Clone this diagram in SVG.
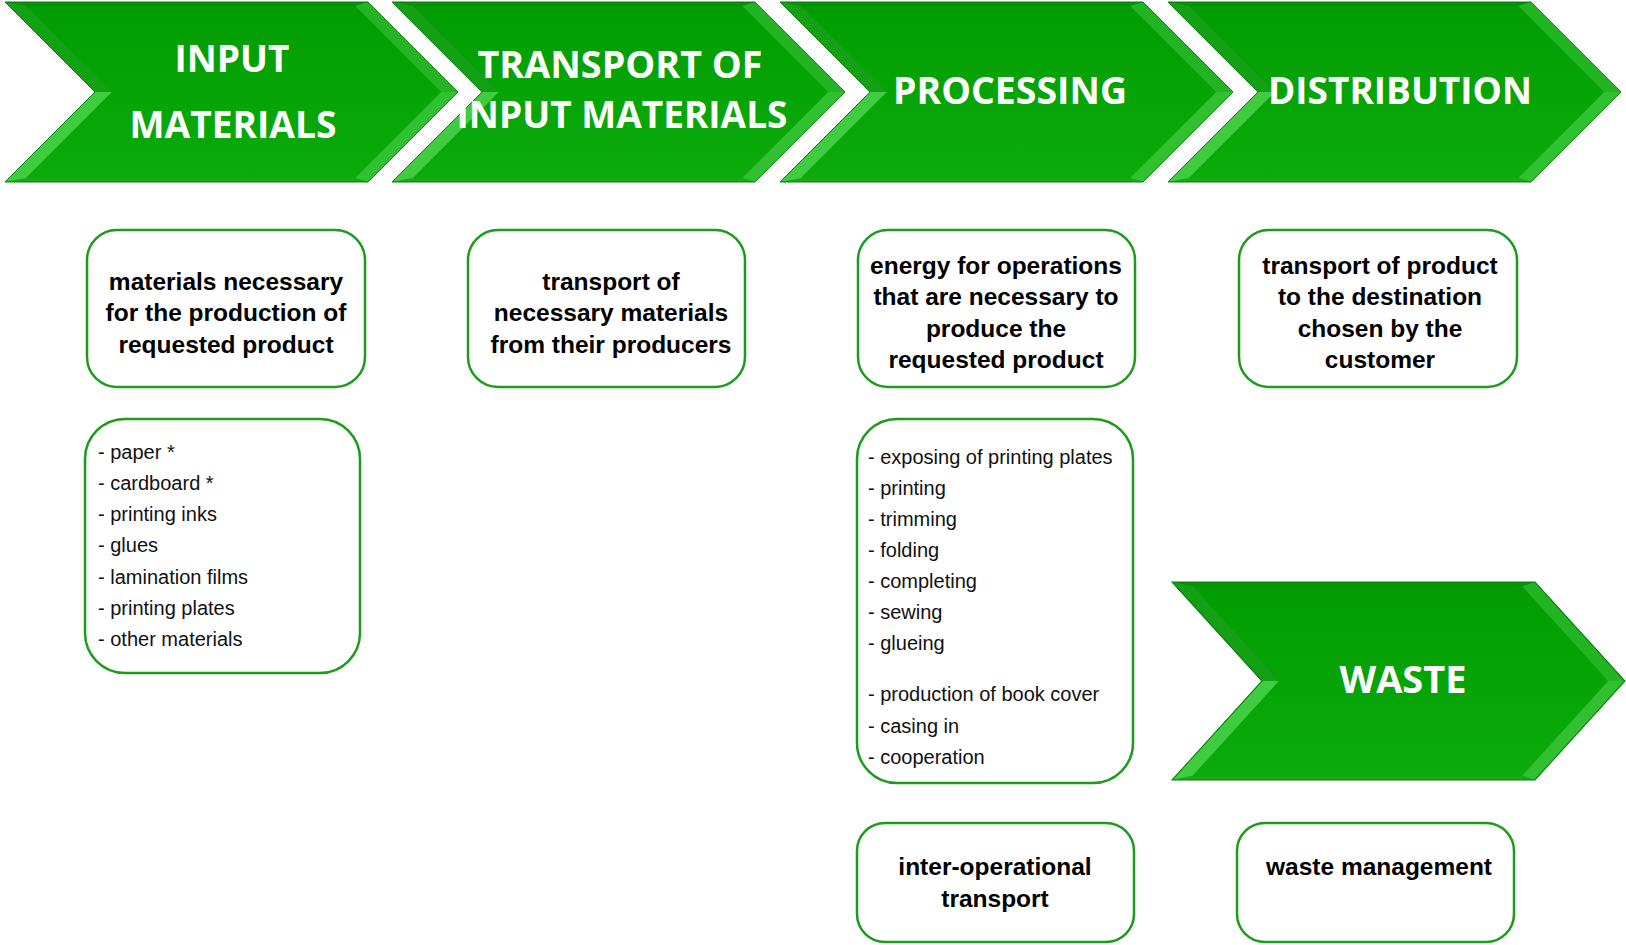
<svg xmlns="http://www.w3.org/2000/svg" xmlns:xlink="http://www.w3.org/1999/xlink" width="1626" height="945" viewBox="0 0 1626 945">
<style>
.head{font-family:"Open Sans","Liberation Sans",sans-serif;font-weight:bold;font-size:37px;fill:#ffffff;text-anchor:middle}
.box{fill:#ffffff;stroke:#1e9b1e;stroke-width:2.5}
.bt{font-family:"Liberation Sans",Arial,sans-serif;font-weight:bold;font-size:24.5px;fill:#000000;text-anchor:middle}
.lt{font-family:"Liberation Sans",Arial,sans-serif;font-size:20px;fill:#111111}
</style>
<defs>
<linearGradient id="face" x1="0" y1="0" x2="0" y2="1">
<stop offset="0" stop-color="#029c02"/>
<stop offset="1" stop-color="#0bab0b"/>
</linearGradient>
<g id="chev">
<polygon points="0,0 363,0 453,90 363,180 0,180 90,90" fill="url(#face)"/>
<polygon points="0,0 363,0 350,4 21,4" fill="#08900a"/>
<polygon points="363,0 453,90 436,90 350,4" fill="#22b422"/>
<polygon points="453,90 363,180 350,176 436,90" fill="#30c030"/>
<polygon points="363,180 0,180 21,176 350,176" fill="#18a818"/>
<polygon points="0,180 90,90 107,90 21,176" fill="#40cc40"/>
<polygon points="90,90 0,0 21,4 107,90" fill="#14a014"/>
<polygon points="21,4 350,4 436,90 350,176 21,176 107,90" fill="url(#face)"/>
<polygon points="0,0 363,0 453,90 363,180 0,180 90,90" fill="none" stroke="#0a7f0a" stroke-width="1"/>
</g>
</defs>
<rect width="1626" height="945" fill="#ffffff"/>

<g id="input-materials">
<use xlink:href="#chev" href="#chev" transform="translate(5,2)"/>
<text class="head" x="232" y="72" textLength="115" lengthAdjust="spacingAndGlyphs">INPUT</text>
<text class="head" x="233" y="138" textLength="207" lengthAdjust="spacingAndGlyphs">MATERIALS</text>
</g>
<g id="transport-input">
<use xlink:href="#chev" href="#chev" transform="translate(392,2)"/>
<text class="head" x="620" y="78" textLength="285" lengthAdjust="spacingAndGlyphs">TRANSPORT OF</text>
<text class="head" x="622" y="128" textLength="331" lengthAdjust="spacingAndGlyphs">INPUT MATERIALS</text>
</g>
<g id="processing">
<use xlink:href="#chev" href="#chev" transform="translate(780,2)"/>
<text class="head" x="1010" y="104" textLength="234" lengthAdjust="spacingAndGlyphs">PROCESSING</text>
</g>
<g id="distribution">
<use xlink:href="#chev" href="#chev" transform="translate(1168,2)"/>
<text class="head" x="1400" y="104" textLength="264" lengthAdjust="spacingAndGlyphs">DISTRIBUTION</text>
</g>
<g id="waste">
<use xlink:href="#chev" href="#chev" transform="translate(1172,582) scale(1,1.1)"/>
<text class="head" x="1403" y="693" textLength="127" lengthAdjust="spacingAndGlyphs">WASTE</text>
</g>

<g id="box-materials">
<rect class="box" x="87" y="230" width="278" height="157" rx="30"/>
<text class="bt" x="226" y="290">materials necessary</text>
<text class="bt" x="226" y="321">for the production of</text>
<text class="bt" x="226" y="353">requested product</text>
</g>
<g id="box-transport">
<rect class="box" x="468" y="230" width="277" height="157" rx="30"/>
<text class="bt" x="611" y="290">transport of</text>
<text class="bt" x="611" y="321">necessary materials</text>
<text class="bt" x="611" y="353">from their producers</text>
</g>
<g id="box-energy">
<rect class="box" x="858" y="230" width="277" height="157" rx="30"/>
<text class="bt" x="996" y="274">energy for operations</text>
<text class="bt" x="996" y="305">that are necessary to</text>
<text class="bt" x="996" y="337">produce the</text>
<text class="bt" x="996" y="368">requested product</text>
</g>
<g id="box-distribution">
<rect class="box" x="1239" y="230" width="278" height="157" rx="30"/>
<text class="bt" x="1380" y="274">transport of product</text>
<text class="bt" x="1380" y="305">to the destination</text>
<text class="bt" x="1380" y="337">chosen by the</text>
<text class="bt" x="1380" y="368">customer</text>
</g>

<g id="list-materials">
<rect class="box" x="85" y="419" width="275" height="254" rx="40"/>
<text class="lt" x="98" y="459">- paper *</text>
<text class="lt" x="98" y="490">- cardboard *</text>
<text class="lt" x="98" y="521">- printing inks</text>
<text class="lt" x="98" y="552">- glues</text>
<text class="lt" x="98" y="584">- lamination films</text>
<text class="lt" x="98" y="615">- printing plates</text>
<text class="lt" x="98" y="646">- other materials</text>
</g>
<g id="list-processing">
<rect class="box" x="857" y="419" width="276" height="364" rx="40"/>
<text class="lt" x="868" y="464">- exposing of printing plates</text>
<text class="lt" x="868" y="495">- printing</text>
<text class="lt" x="868" y="526">- trimming</text>
<text class="lt" x="868" y="557">- folding</text>
<text class="lt" x="868" y="588">- completing</text>
<text class="lt" x="868" y="619">- sewing</text>
<text class="lt" x="868" y="650">- glueing</text>
<text class="lt" x="868" y="701">- production of book cover</text>
<text class="lt" x="868" y="733">- casing in</text>
<text class="lt" x="868" y="764">- cooperation</text>
</g>

<g id="box-interop">
<rect class="box" x="857" y="823" width="277" height="119" rx="28"/>
<text class="bt" x="995" y="875">inter-operational</text>
<text class="bt" x="995" y="907">transport</text>
</g>
<g id="box-waste">
<rect class="box" x="1237" y="823" width="277" height="119" rx="28"/>
<text class="bt" x="1379" y="875">waste management</text>
</g>

<g id="connectors"></g>
</svg>
